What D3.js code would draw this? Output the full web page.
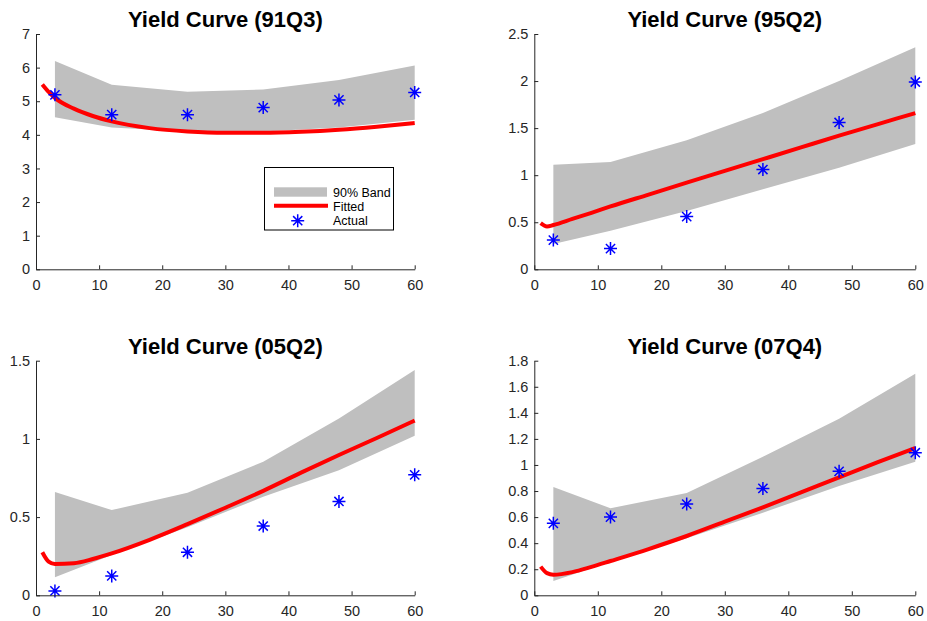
<!DOCTYPE html>
<html>
<head>
<meta charset="utf-8">
<script src="https://cdn.jsdelivr.net/npm/d3@7"></script>
<style>
    body { margin: 0; background: #fff; }
    svg { display: block; }
    text { font-family: "Liberation Sans", Arial, Helvetica, sans-serif; }
</style>
</head>
<body>
<svg id="canvas" width="927" height="621"></svg>
<script>
// maturities (months) where band and actual yields are observed
const bandMaturities = [3, 12, 24, 36, 48, 60];
// maturities used for the fitted curve
const fitMaturities = [1, 2, 3, 6, 9, 12, 18, 24, 30, 36, 42, 48, 54, 60];
const xTicks = [0, 10, 20, 30, 40, 50, 60];

const titles = ["Yield Curve (91Q3)", "Yield Curve (95Q2)", "Yield Curve (05Q2)", "Yield Curve (07Q4)"];

// 91Q3
const actual91 = [5.19, 4.60, 4.60, 4.81, 5.04, 5.26];
const bandLow91 = [4.52, 4.22, 4.10, 4.10, 4.22, 4.45];
const bandHigh91 = [6.20, 5.49, 5.28, 5.35, 5.63, 6.06];
const fitted91 = [5.50, 5.28, 5.10, 4.78, 4.56, 4.40, 4.20, 4.10, 4.06, 4.06, 4.09, 4.15, 4.24, 4.35];
const yTicks91 = [0, 1, 2, 3, 4, 5, 6, 7];

// 95Q2
const actual95 = [0.31, 0.22, 0.56, 1.06, 1.56, 1.99];
const bandLow95 = [0.27, 0.41, 0.62, 0.85, 1.08, 1.33];
const bandHigh95 = [1.11, 1.14, 1.37, 1.66, 2.00, 2.36];
const fitted95 = [0.49, 0.455, 0.47, 0.535, 0.60, 0.668, 0.794, 0.92, 1.045, 1.17, 1.295, 1.42, 1.54, 1.66];
const yTicks95 = [0, 0.5, 1, 1.5, 2, 2.5];

// 05Q2
const actual05 = [0.028, 0.124, 0.275, 0.443, 0.60, 0.77];
const bandLow05 = [0.115, 0.258, 0.435, 0.63, 0.80, 1.02];
const bandHigh05 = [0.66, 0.545, 0.656, 0.854, 1.13, 1.44];
const fitted05 = [0.275, 0.215, 0.20, 0.205, 0.232, 0.268, 0.355, 0.455, 0.56, 0.668, 0.784, 0.897, 1.006, 1.117];
const yTicks05 = [0, 0.5, 1, 1.5];

// 07Q4
const actual07 = [0.552, 0.60, 0.70, 0.82, 0.951, 1.094];
const bandLow07 = [0.11, 0.258, 0.437, 0.634, 0.839, 1.025];
const bandHigh07 = [0.83, 0.667, 0.785, 1.064, 1.355, 1.70];
const fitted07 = [0.22, 0.17, 0.158, 0.178, 0.218, 0.263, 0.355, 0.455, 0.565, 0.675, 0.79, 0.905, 1.02, 1.13];
const yTicks07 = [0, 0.2, 0.4, 0.6, 0.8, 1, 1.2, 1.4, 1.6, 1.8];

const legendLabels = ["90% Band", "Fitted", "Actual"];

const bandColor = "#bfbfbf";
const fitColor = "#ff0000";
const actualColor = "#0000ff";
const axisColor = "#262626";

// axes boxes for the 2x2 grid
const panels = [
    {title: titles[0], actual: actual91, low: bandLow91, high: bandHigh91, fitted: fitted91, yTicks: yTicks91,
        left: 36, right: 414.7, top: 34, bottom: 269.3},
    {title: titles[1], actual: actual95, low: bandLow95, high: bandHigh95, fitted: fitted95, yTicks: yTicks95,
        left: 534.3, right: 915.3, top: 34, bottom: 269.3},
    {title: titles[2], actual: actual05, low: bandLow05, high: bandHigh05, fitted: fitted05, yTicks: yTicks05,
        left: 36, right: 414.7, top: 360.7, bottom: 595.3},
    {title: titles[3], actual: actual07, low: bandLow07, high: bandHigh07, fitted: fitted07, yTicks: yTicks07,
        left: 534.3, right: 915.3, top: 360.7, bottom: 595.3}
];

// matlab style '*' marker: plus and cross on top of each other
function asterisk(r) {
    const d = r * Math.SQRT1_2;
    return `M${-r},0L${r},0M0,${-r}L0,${r}M${-d},${-d}L${d},${d}M${-d},${d}L${d},${-d}`;
}

const svg = d3.select("#canvas");

panels.forEach(function(p) {
    const x = d3.scaleLinear().domain([0, 60]).range([p.left, p.right]);
    const y = d3.scaleLinear().domain([0, d3.max(p.yTicks)]).range([p.bottom, p.top]);
    const g = svg.append("g");

    // 90% band
    const area = d3.area()
        .x(function(d, i) { return x(bandMaturities[i]); })
        .y0(function(d, i) { return y(p.low[i]); })
        .y1(function(d, i) { return y(p.high[i]); });
    g.append("path")
        .datum(p.low)
        .attr("d", area)
        .attr("fill", bandColor);

    // fitted curve
    const line = d3.line()
        .x(function(d, i) { return x(fitMaturities[i]); })
        .y(function(d) { return y(d); })
        .curve(d3.curveMonotoneX);
    g.append("path")
        .datum(p.fitted)
        .attr("d", line)
        .attr("fill", "none")
        .attr("stroke", fitColor)
        .attr("stroke-width", 4)
        .attr("stroke-linejoin", "round");

    // actual yields
    g.selectAll(".actual")
        .data(p.actual)
        .join("path")
        .attr("class", "actual")
        .attr("transform", function(d, i) { return `translate(${x(bandMaturities[i])},${y(d)})`; })
        .attr("d", asterisk(6.5))
        .attr("fill", "none")
        .attr("stroke", actualColor)
        .attr("stroke-width", 1.5);

    // axes (left + bottom only, ticks pointing in)
    const xAxis = g.append("g")
        .attr("transform", `translate(0,${p.bottom})`)
        .call(d3.axisBottom(x).tickValues(xTicks).tickSizeInner(-4).tickSizeOuter(0).tickPadding(10));
    const yAxis = g.append("g")
        .attr("transform", `translate(${p.left},0)`)
        .call(d3.axisLeft(y).tickValues(p.yTicks).tickSizeInner(-4).tickSizeOuter(0).tickPadding(6)
            .tickFormat(d3.format("~g")));
    [xAxis, yAxis].forEach(function(a) {
        a.selectAll("path, line").attr("stroke", axisColor);
        a.selectAll("text").attr("fill", axisColor).style("font-size", "14.5px")
            .style("font-family", "'Liberation Sans', Arial, sans-serif");
    });

    g.append("text")
        .attr("x", (p.left + p.right) / 2)
        .attr("y", p.top - 7)
        .attr("text-anchor", "middle")
        .style("font-size", "22px")
        .style("font-weight", "bold")
        .attr("fill", "#000")
        .text(p.title);
});

// Handmade legend in the first panel
const lg = svg.append("g");
lg.append("rect").attr("x", 264.5).attr("y", 167.5).attr("width", 129).attr("height", 62.5)
    .attr("fill", "#fff").attr("stroke", "#000").attr("stroke-width", 1);
lg.append("rect").attr("x", 274).attr("y", 187.3).attr("width", 53).attr("height", 9.4).attr("fill", bandColor);
lg.append("line").attr("x1", 274).attr("x2", 328).attr("y1", 205.7).attr("y2", 205.7)
    .attr("stroke", fitColor).attr("stroke-width", 4);
lg.append("path").attr("transform", "translate(297.7,220.7)").attr("d", asterisk(6.5))
    .attr("fill", "none").attr("stroke", actualColor).attr("stroke-width", 1.5);
lg.selectAll(".lgtext")
    .data(legendLabels)
    .join("text")
    .attr("class", "lgtext")
    .attr("x", 333)
    .attr("y", function(d, i) { return [196.5, 210.5, 225.3][i]; })
    .style("font-size", "12.5px")
    .attr("fill", "#000")
    .text(function(d) { return d; });
</script>
</body>
</html>
